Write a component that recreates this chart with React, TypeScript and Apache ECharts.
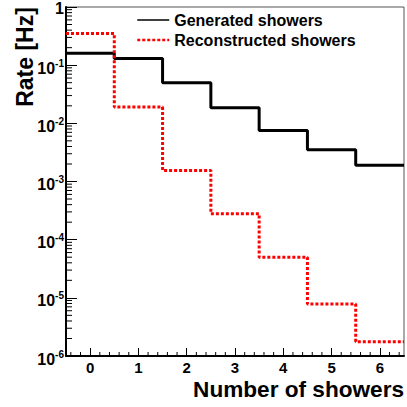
import React, { useEffect, useRef } from 'react';
import * as echarts from 'echarts';

// Number of showers per event (bin centres)
const showerCounts = [0, 1, 2, 3, 4, 5, 6];
const xTickLabels = ['0', '1', '2', '3', '4', '5', '6'];
// Rates in Hz for each bin
const generatedRate = [0.16, 0.13, 0.05, 0.0186, 0.0075, 0.0035, 0.0019];
const reconstructedRate = [0.35, 0.019, 0.00155, 0.00028, 0.00005, 0.0000078, 0.00000176];
// Decade exponents on the log axis
const decades = [-6, -5, -4, -3, -2, -1, 0];

const FONT = '"Liberation Sans", Arial, Helvetica, sans-serif';
const X_MIN = -0.5;
const X_MAX = 6.5;

// Histogram outline: one point at each bin's lower edge, plus the last upper edge
function histSteps(values: number[]): number[][] {
  const pts = showerCounts.map((c, i) => [c - 0.5, values[i]]);
  const last = showerCounts.length - 1;
  pts.push([showerCounts[last] + 0.5, values[last]]);
  return pts;
}

// Minor tick positions on the log axis: 2..9 × 10^d
function logMinorTicks(): number[][] {
  const out: number[][] = [];
  for (let i = 0; i < decades.length - 1; i++) {
    for (let m = 2; m <= 9; m++) out.push([X_MIN, m * Math.pow(10, decades[i])]);
  }
  return out;
}

// Minor tick positions on the x axis, every 0.2 between integers
function xMinorTicks(): number[][] {
  const out: number[][] = [];
  for (let k = -2; k <= 32; k++) {
    if (k % 5 === 0) continue;
    out.push([Math.round(k * 2) / 10, Math.pow(10, decades[0])]);
  }
  return out;
}

export default function App() {
  const ref = useRef<HTMLDivElement>(null);

  useEffect(() => {
    if (!ref.current) return;
    const chart = echarts.init(ref.current, null, { renderer: 'svg' });

    const option: any = {
      animation: false,
      backgroundColor: '#ffffff',
      grid: {
        left: 66,
        right: 1,
        top: 6,
        bottom: 51,
        show: true,
        borderColor: '#555',
        borderWidth: 1,
        backgroundColor: 'transparent',
      },
      legend: {
        orient: 'vertical',
        left: 136,
        top: 12,
        padding: 0,
        itemWidth: 32,
        itemHeight: 14,
        itemGap: 4,
        itemStyle: { opacity: 0 },
        textStyle: { fontFamily: FONT, fontWeight: 'bold', fontSize: 16, color: '#000', lineHeight: 16 },
        data: [
          { name: 'Generated showers', lineStyle: { width: 1.5 } },
          { name: 'Reconstructed showers', lineStyle: { width: 2.5 } },
        ],
      },
      xAxis: {
        type: 'value',
        min: X_MIN,
        max: X_MAX,
        name: 'Number of showers',
        nameLocation: 'end',
        nameGap: 0,
        nameTextStyle: {
          fontFamily: FONT,
          fontWeight: 'bold',
          fontSize: 22.6,
          color: '#000',
          align: 'right',
          verticalAlign: 'top',
          padding: [22, 0, 0, 0],
        },
        axisLine: { show: true, onZero: false, lineStyle: { color: '#000', width: 2 } },
        axisTick: { show: true, inside: true, length: 8, customValues: showerCounts, lineStyle: { color: '#000', width: 1 } },
        axisLabel: {
          customValues: showerCounts,
          formatter: (v: number) => xTickLabels[showerCounts.indexOf(Math.round(v))] ?? '',
          fontFamily: FONT,
          fontWeight: 'bold',
          fontSize: 15,
          color: '#000',
          margin: 4,
        },
        splitLine: { show: false },
      },
      yAxis: {
        type: 'log',
        logBase: 10,
        min: Math.pow(10, decades[0]),
        max: Math.pow(10, decades[decades.length - 1]),
        axisLine: { show: true, onZero: false, lineStyle: { color: '#000', width: 2 } },
        axisTick: { show: true, inside: true, length: 11, lineStyle: { color: '#000', width: 1 } },
        axisLabel: {
          margin: 2,
          formatter: (v: number) => {
            const e = Math.round(Math.log10(v));
            return e === 0 ? '{one|1}' : '{b|10}{s|' + e + '}';
          },
          rich: {
            one: { fontFamily: FONT, fontWeight: 'bold', fontSize: 16, color: '#000', padding: [2, 0, 0, 0] },
            b: { fontFamily: FONT, fontWeight: 'bold', fontSize: 16, color: '#000', padding: [6, 0, 0, 0] },
            s: { fontFamily: FONT, fontWeight: 'bold', fontSize: 10, color: '#000', padding: [0, 0, 4, 0] },
          },
        },
        splitLine: { show: false },
      },
      graphic: [
        {
          type: 'text',
          x: 25,
          y: 57,
          rotation: Math.PI / 2,
          style: {
            text: 'Rate [Hz]',
            fontFamily: FONT,
            fontWeight: 'bold',
            fontSize: 23,
            fill: '#000',
            align: 'center',
            verticalAlign: 'middle',
          },
        },
      ],
      series: [
        {
          name: 'Generated showers',
          type: 'line',
          step: 'end',
          symbol: 'none',
          data: histSteps(generatedRate),
          lineStyle: { color: '#000', width: 3, type: 'solid' },
          itemStyle: { color: '#000' },
          z: 3,
        },
        {
          name: 'Reconstructed showers',
          type: 'line',
          step: 'end',
          symbol: 'none',
          data: histSteps(reconstructedRate),
          lineStyle: { color: '#ff0000', width: 3, type: [3, 2], cap: 'butt' },
          itemStyle: { color: '#ff0000' },
          z: 4,
        },
        {
          type: 'custom',
          silent: true,
          clip: false,
          data: logMinorTicks(),
          renderItem: (_p: any, api: any) => {
            const pt = api.coord([api.value(0), api.value(1)]);
            return {
              type: 'line',
              shape: { x1: pt[0], y1: pt[1], x2: pt[0] + 6, y2: pt[1] },
              style: { stroke: '#000', lineWidth: 1 },
            };
          },
          z: 2,
        },
        {
          type: 'custom',
          silent: true,
          clip: false,
          data: xMinorTicks(),
          renderItem: (_p: any, api: any) => {
            const pt = api.coord([api.value(0), api.value(1)]);
            return {
              type: 'line',
              shape: { x1: pt[0], y1: pt[1], x2: pt[0], y2: pt[1] - 4 },
              style: { stroke: '#000', lineWidth: 1 },
            };
          },
          z: 2,
        },
      ],
    };

    chart.setOption(option);
    return () => chart.dispose();
  }, []);

  return (
    <div
      ref={ref}
      style={{ position: 'fixed', left: 0, top: 0, width: 407, height: 407, background: '#fff' }}
    />
  );
}
